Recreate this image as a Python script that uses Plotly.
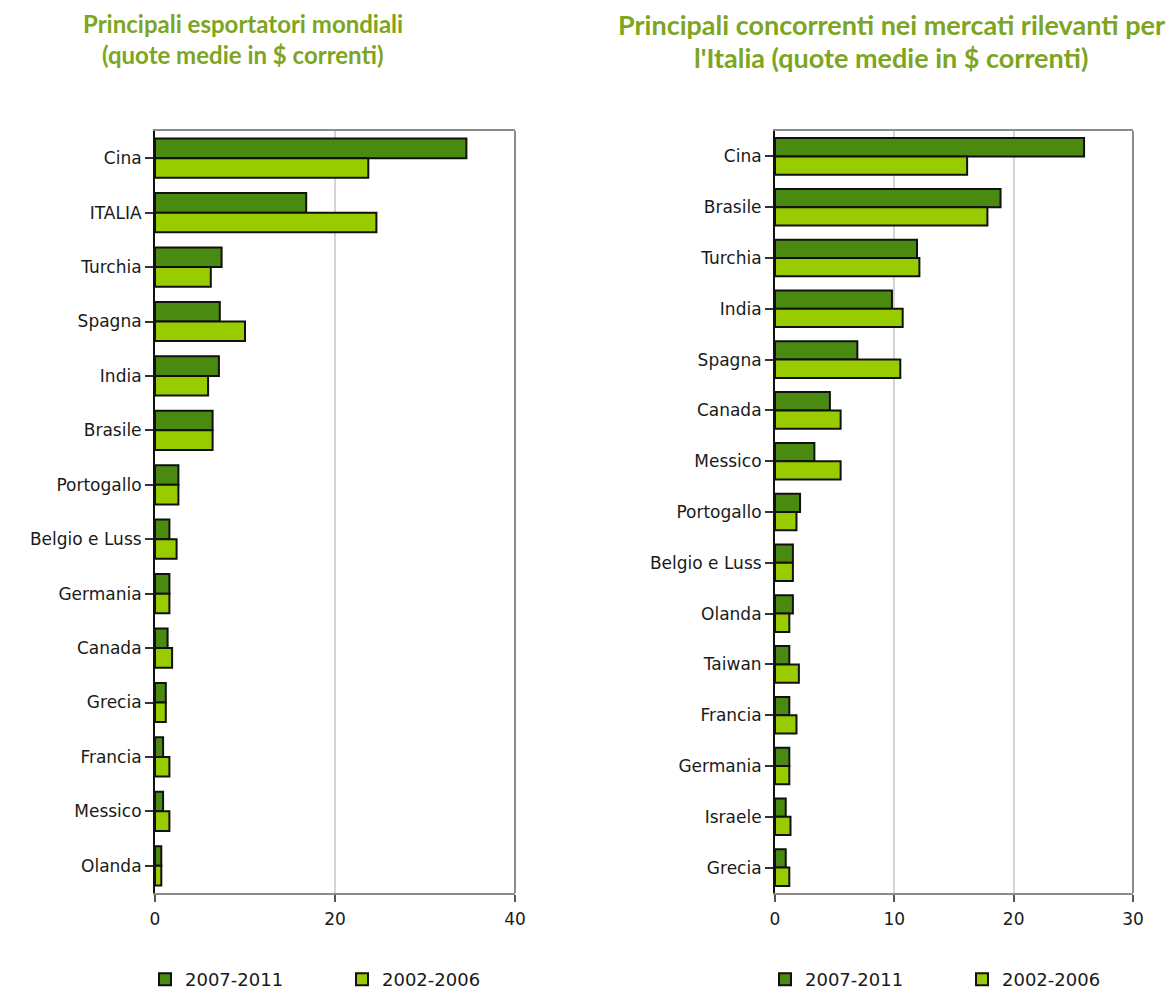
import plotly.graph_objects as go

# Quote medie di mercato (%), due periodi a confronto
left_countries = ["Cina", "ITALIA", "Turchia", "Spagna", "India", "Brasile", "Portogallo",
                  "Belgio e Luss", "Germania", "Canada", "Grecia", "Francia", "Messico", "Olanda"]
left_2007_2011 = [34.6, 16.8, 7.4, 7.2, 7.1, 6.4, 2.6, 1.6, 1.6, 1.4, 1.2, 0.9, 0.9, 0.7]
left_2002_2006 = [23.7, 24.6, 6.2, 10.0, 5.9, 6.4, 2.6, 2.4, 1.6, 1.9, 1.2, 1.6, 1.6, 0.7]

right_countries = ["Cina", "Brasile", "Turchia", "India", "Spagna", "Canada", "Messico", "Portogallo",
                   "Belgio e Luss", "Olanda", "Taiwan", "Francia", "Germania", "Israele", "Grecia"]
right_2007_2011 = [25.9, 18.9, 11.9, 9.8, 6.9, 4.6, 3.3, 2.1, 1.5, 1.5, 1.2, 1.2, 1.2, 0.9, 0.9]
right_2002_2006 = [16.1, 17.8, 12.1, 10.7, 10.5, 5.5, 5.5, 1.8, 1.5, 1.2, 2.0, 1.8, 1.2, 1.3, 1.2]

left_ticks = [0, 20, 40]
right_ticks = [0, 10, 20, 30]

series_names = ["2007-2011", "2002-2006"]
DARK = "#4b8a10"
LIGHT = "#99cc00"
TITLE_GREEN = "#7da51f"
W, H = 1170, 992

fig = go.Figure()

for name, vals, col in [(series_names[0], left_2007_2011, DARK), (series_names[1], left_2002_2006, LIGHT)]:
    fig.add_trace(go.Bar(y=left_countries, x=vals, orientation="h", name=name,
                         marker=dict(color=col, line=dict(color="#111111", width=2)),
                         xaxis="x", yaxis="y", legend="legend"))

for name, vals, col in [(series_names[0], right_2007_2011, DARK), (series_names[1], right_2002_2006, LIGHT)]:
    fig.add_trace(go.Bar(y=right_countries, x=vals, orientation="h", name=name,
                         marker=dict(color=col, line=dict(color="#111111", width=2)),
                         xaxis="x2", yaxis="y2", legend="legend2"))

tick_font = dict(family="DejaVu Sans", size=17, color="#1a1a1a")
y_dom = [1 - 893 / H, 1 - 131 / H]


def xaxis_style(dom, rng, ticks, anchor):
    return dict(domain=dom, range=rng, tickvals=ticks, anchor=anchor,
                showgrid=True, gridcolor="#d4d4d4", gridwidth=1.5,
                showline=True, linecolor="#8c8c8c", linewidth=2, mirror=True,
                ticks="outside", ticklen=7, tickcolor="#555555", tickwidth=1.5,
                ticklabelstandoff=3,
                zeroline=False, tickfont=tick_font, fixedrange=True, automargin=False)


def yaxis_style(anchor):
    return dict(domain=y_dom, anchor=anchor, type="category", autorange="reversed",
                showline=True, linecolor="#111111", linewidth=2,
                ticks="outside", ticklen=8, tickcolor="#333333", tickwidth=1.5,
                showgrid=False, zeroline=False, tickfont=tick_font, fixedrange=True,
                automargin=False)


def legend_style(x_px):
    return dict(orientation="h", x=x_px / W, y=1 - 961 / H, xref="container", yref="container",
                xanchor="left", yanchor="top",
                font=dict(family="DejaVu Sans", size=18, color="#1a1a1a"),
                entrywidth=152, entrywidthmode="pixels", itemwidth=30,
                bgcolor="rgba(0,0,0,0)")


fig.update_layout(
    width=W, height=H,
    margin=dict(l=0, r=0, t=0, b=0, autoexpand=False),
    paper_bgcolor="white", plot_bgcolor="white",
    barmode="group", bargap=0.28, bargroupgap=0,
    xaxis=xaxis_style([155 / W, 515 / W], [0, 40], left_ticks, "y"),
    yaxis=yaxis_style("x"),
    xaxis2=xaxis_style([775 / W, 1133 / W], [0, 30], right_ticks, "y2"),
    yaxis2=yaxis_style("x2"),
    legend=legend_style(145),
    legend2=legend_style(765),
    showlegend=True,
)

# right-hand frame edge of each panel
for xd, yd in [("x domain", "y domain"), ("x2 domain", "y2 domain")]:
    fig.add_shape(type="line", xref=xd, yref=yd, x0=1, x1=1, y0=0, y1=1,
                  line=dict(color="#8c8c8c", width=2))

titles = [
    (243, 24, [23, 55], ["Principali esportatori mondiali", "(quote medie in $ correnti)"]),
    (891, 27, [25, 57], ["Principali concorrenti nei mercati rilevanti per",
                         "l'Italia (quote medie in $ correnti)"]),
]
for cx, size, ys, lines in titles:
    for y_px, line in zip(ys, lines):
        fig.add_annotation(text="<b>" + line + "</b>", x=cx / W, y=1 - y_px / H,
                           xref="paper", yref="paper", xanchor="center", yanchor="middle",
                           showarrow=False, font=dict(family="Lato", size=size, color=TITLE_GREEN))

fig.write_html("out.html")
